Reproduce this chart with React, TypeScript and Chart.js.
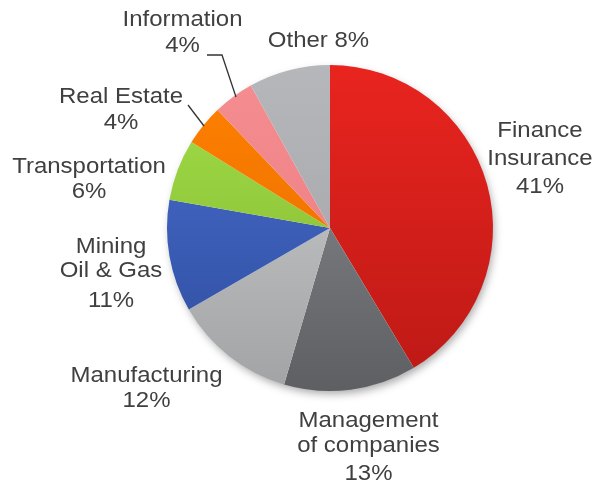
import React, { useEffect, useRef } from "react";
import { Chart, registerables } from "chart.js";

Chart.register(...registerables);

const categories = [
  "Finance Insurance",
  "Management of companies",
  "Manufacturing",
  "Mining Oil & Gas",
  "Transportation",
  "Real Estate",
  "Information",
  "Other",
];
const shares = [41, 13, 12, 11, 6, 4, 4, 8];
const colorTop = ["#E9241F", "#8F9093", "#CFD0D1", "#4A6FD1", "#A6E14B", "#FF8200", "#F68D91", "#B6B7BA"];
const colorBottom = ["#BC1915", "#5E5F63", "#A2A3A5", "#2D4C9C", "#7BB02A", "#E56800", "#E67B7F", "#A0A1A4"];

const labelLines: string[][] = [
  ["Finance", "Insurance", "41%"],
  ["Management", "of companies", "13%"],
  ["Manufacturing", "12%"],
  ["Mining", "Oil & Gas", "11%"],
  ["Transportation", "6%"],
  ["Real Estate", "4%"],
  ["Information", "4%"],
  ["Other 8%"],
];
// label centre x and baseline y of each line
const labelX = [540, 368.5, 146.5, 111, 89, 121, 182.5, 318.5];
const labelBaselines: number[][] = [
  [137, 165, 193],
  [427, 452, 480],
  [382, 407],
  [253, 277, 307],
  [173, 198],
  [103, 129],
  [26, 52],
  [47],
];

export default function App() {
  const ref = useRef<HTMLCanvasElement | null>(null);
  useEffect(() => {
    document.body.style.margin = "0";
    const canvas = ref.current!;
    const shadowPlugin = {
      id: "shadow",
      beforeDatasetsDraw(chart: any) {
        const meta = chart.getDatasetMeta(0);
        const arc = meta.data[0];
        if (!arc) return;
        const { x, y, outerRadius } = arc;
        const c = chart.ctx;
        c.save();
        c.shadowColor = "rgba(0,0,0,0.35)";
        c.shadowBlur = 9;
        c.shadowOffsetX = 2;
        c.shadowOffsetY = 4;
        c.fillStyle = "#ffffff";
        c.beginPath();
        c.arc(x, y, outerRadius - 1, 0, Math.PI * 2);
        c.fill();
        c.restore();
      },
    };
    const sx = 1.09;
    const labelPlugin = {
      id: "labels",
      afterDraw(chart: any) {
        const c = chart.ctx;
        c.save();
        c.fillStyle = "#404040";
        c.font = '22px "Liberation Sans", Arial, sans-serif';
        c.textAlign = "center";
        c.textBaseline = "alphabetic";
        labelLines.forEach((lines, i) => {
          lines.forEach((t, j) => {
            c.save();
            c.translate(labelX[i], labelBaselines[i][j]);
            c.scale(sx, 1);
            c.fillText(t, 0, 0);
            c.restore();
          });
        });
        c.strokeStyle = "#333333";
        c.lineWidth = 1.3;
        c.beginPath();
        c.moveTo(207, 55);
        c.lineTo(222, 55);
        c.lineTo(236, 97);
        c.stroke();
        c.beginPath();
        c.moveTo(188, 105);
        c.lineTo(204, 126);
        c.stroke();
        c.restore();
      },
    };
    const chart = new Chart(canvas, {
      type: "pie",
      data: {
        labels: categories,
        datasets: [
          {
            data: shares,
            borderWidth: 0,
            backgroundColor: (ctx: any) => {
              const area = ctx.chart.chartArea;
              const i = ctx.dataIndex;
              if (!area) return colorTop[i];
              const g = ctx.chart.ctx.createLinearGradient(0, area.top, 0, area.bottom);
              g.addColorStop(0, colorTop[i]);
              g.addColorStop(1, colorBottom[i]);
              return g;
            },
          },
        ],
      },
      options: {
        responsive: false,
        animation: false,
        layout: { padding: { left: 167, right: 102, top: 65, bottom: 94 } },
        plugins: { legend: { display: false }, tooltip: { enabled: false } },
      },
      plugins: [shadowPlugin, labelPlugin],
    });
    return () => chart.destroy();
  }, []);
  return <canvas ref={ref} width={595} height={485} style={{ display: "block" }} />;
}
